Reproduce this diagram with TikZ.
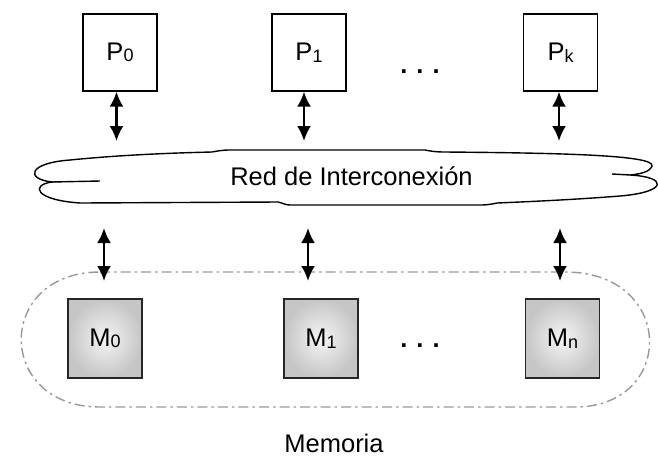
\documentclass[tikz,border=0pt]{standalone}
\usepackage{fontspec}
\setmainfont{Liberation Sans}
\usetikzlibrary{arrows.meta}
\newcommand{\sbx}[1]{\raisebox{-1.5pt}{\fontsize{18}{18}\selectfont #1}}
\tikzset{
  lbl/.style={font=\fontsize{25.5}{30}\selectfont, inner sep=0pt},
  pbox/.style={lbl, draw=black, line width=1.3pt, fill=white, minimum width=74pt, minimum height=77pt},
  mbox/.style={lbl, draw=black!85, line width=1.5pt, inner color=gray!8, outer color=gray!45, minimum width=74pt, minimum height=79pt},
  biarrow/.style={line width=2.4pt, {Latex[length=15pt,width=14pt]}-{Latex[length=15pt,width=14pt]}},
  memline/.style={draw=gray!80, line width=1.4pt, dash pattern=on 10pt off 4pt on 2.5pt off 4pt},
  cloudline/.style={draw=black, line width=1.4pt, fill=white}
}
\begin{document}
\begin{tikzpicture}[x=1pt,y=-1pt]
\useasboundingbox (0,0) rectangle (658,456);
% processors
\node[pbox] (p0) at (120,52.5) {P\sbx{0}};
\node[pbox] (p1) at (309,52.5) {P\sbx{1}};
\node[pbox] (pk) at (560.5,52.5) {P\sbx{k}};
\node[lbl, anchor=base, font=\fontsize{25.5}{30}\bfseries] (pdots) at (420,73.5) {.\hspace{9pt}.\hspace{9pt}.};
% cloud
\draw[cloudline] (52,182) .. controls (25,179) and (28,163) .. (70,160)
  .. controls (120,155) and (170,153) .. (212,152)
  .. controls (218,151) and (222,150) .. (230,150)
  -- (425,150) .. controls (430,151) and (435,152) .. (445,152)
  .. controls (560,153) and (655,155) .. (652,166)
  .. controls (650,172) and (640,174) .. (630,175)
  .. controls (668,177) and (668,192) .. (620,196)
  .. controls (570,200) and (520,202) .. (497,203)
  .. controls (492,204) and (488,205) .. (480,205)
  -- (290,205) .. controls (285,205) and (283,203) .. (278,202)
  -- (80,203) .. controls (35,200) and (30,185) .. cycle;
\draw[line width=1.4pt] (100,181) -- (52,182);
\draw[line width=1.4pt] (612,174) -- (630,175);
\node[lbl, anchor=base] (red) at (351.5,185) {Red de Interconexión};
% upper arrows
\coordinate (u0) at (116.5,141);
\coordinate (u1) at (304,141);
\coordinate (uk) at (559,141);
\draw[biarrow] (u0 |- p0.south) -- (u0);
\draw[biarrow] (u1 |- p1.south) -- (u1);
\draw[biarrow] (uk |- pk.south) -- (uk);
% memory outline
\draw[memline] (100,272) -- (565,272) .. controls (676,272) and (676,407) .. (575,407)
  -- (100,407) .. controls (-5,407) and (-5,272) .. (100,272);
% memory modules
\node[mbox] (m0) at (105,338.5) {M\sbx{0}};
\node[mbox] (m1) at (321,338.5) {M\sbx{1}};
\node[mbox] (mn) at (562.5,338.5) {M\sbx{n}};
\node[lbl, anchor=base, font=\fontsize{25.5}{30}\bfseries] (mdots) at (420,347.5) {.\hspace{9pt}.\hspace{9pt}.};
% lower arrows
\coordinate (l0t) at (104,228);
\coordinate (l0b) at (104,281);
\coordinate (l1t) at (308,228);
\coordinate (l1b) at (308,281);
\coordinate (lnt) at (560,228);
\coordinate (lnb) at (560,281);
\draw[biarrow] (l0t) -- (l0b);
\draw[biarrow] (l1t) -- (l1b);
\draw[biarrow] (lnt) -- (lnb);
\node[lbl, anchor=base] (mem) at (334,452) {Memoria};
\end{tikzpicture}
\end{document}
